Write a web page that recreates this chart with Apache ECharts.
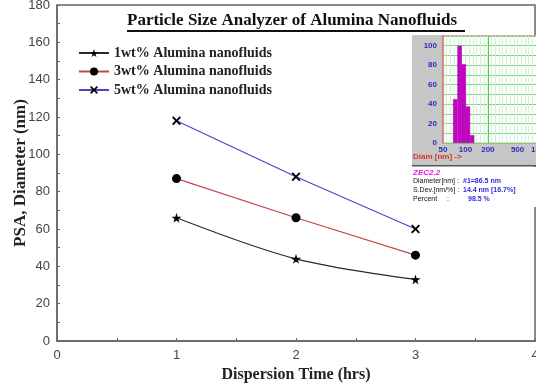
<!DOCTYPE html>
<html>
<head>
<meta charset="utf-8">
<script src="https://cdn.jsdelivr.net/npm/echarts@6/dist/echarts.min.js"></script>
<style>
  html, body { margin: 0; padding: 0; background: #fff; }
  #chart { width: 536px; height: 383px; }
</style>
</head>
<body>
<div id="chart"></div>
<script>
// main plot data
const times = [1, 2, 3];
const psa1 = [66, 44, 33];
const psa3 = [87, 66, 46];
const psa5 = [118, 88, 60];
const seriesNames = ['1wt% Alumina nanofluids', '3wt% Alumina nanofluids', '5wt% Alumina nanofluids'];

// inset histogram (diameter in nm, percent)
const insetDiam = [73, 83.5, 95, 108, 123];
const insetPct = [45, 100, 81, 37.5, 8];
const insetTicks = [50, 100, 200, 500, 1000];

const serif = '"Liberation Serif", "Times New Roman", serif';
const sans = '"Liberation Sans", Arial, sans-serif';

const starPath = 'path://M50,0 L61,35 L98,35 L68,57 L79,91 L50,70 L21,91 L32,57 L2,35 L39,35 Z';
const crossPath = 'path://M0,15 L15,0 L50,35 L85,0 L100,15 L65,50 L100,85 L85,100 L50,65 L15,100 L0,85 L35,50 Z';

const pair = (xs, ys) => xs.map((x, i) => [x, ys[i]]);
const lg = v => Math.log10(v);

const chart = echarts.init(document.getElementById('chart'));

const option = {
    animation: false,
    backgroundColor: '#fff',
    grid: [
        { left: 57, top: 5, right: 1, bottom: 42, outerBoundsMode: 'none', show: true, borderColor: '#666', borderWidth: 1.5, backgroundColor: 'transparent' },
        { left: 443, top: 36, width: 97, height: 107, outerBoundsMode: 'none', show: true, z: 5, backgroundColor: '#fbfffb', borderColor: '#e89090', borderWidth: 1 }
    ],
    legend: {
        orient: 'vertical',
        left: 73,
        top: 41,
        itemWidth: 30,
        itemHeight: 10,
        itemGap: 4.5,
        data: seriesNames,
        textStyle: { fontFamily: serif, fontWeight: 'bold', fontSize: 14, color: '#222' }
    },
    xAxis: [
        {
            gridIndex: 0, type: 'value', min: 0, max: 4, interval: 1,
            axisLine: { lineStyle: { color: '#666', width: 1.5 } },
            axisTick: { inside: true, length: 3, lineStyle: { color: '#666' } },
            minorTick: { show: true, splitNumber: 2, length: 3, lineStyle: { color: '#666' } },
            splitLine: { show: false },
            axisLabel: { margin: 8, fontFamily: sans, fontSize: 13, color: '#444' },
            name: 'Dispersion Time (hrs)', nameLocation: 'middle', nameGap: 23,
            nameTextStyle: { fontFamily: serif, fontWeight: 'bold', fontSize: 16, color: '#222' }
        },
        {
            gridIndex: 1, type: 'value', min: lg(50), max: lg(1000), z: 5,
            axisLine: { show: false },
            axisTick: { show: false, customValues: insetTicks.map(lg) },
            splitLine: { show: true, lineStyle: { color: '#5cc85c', width: 1 } },
            axisLabel: {
                customValues: insetTicks.map(lg), margin: 3,
                formatter: v => String(Math.round(Math.pow(10, v))),
                fontFamily: sans, fontSize: 8, fontWeight: 'bold', color: '#2c2cc0'
            }
        },
        {
            gridIndex: 1, type: 'value', min: lg(50), max: lg(1000), interval: 0.05, z: 5,
            axisLine: { show: false }, axisTick: { show: false }, axisLabel: { show: false },
            splitLine: { show: true, lineStyle: { color: '#d8efd8', width: 1 } }
        }
    ],
    yAxis: [
        {
            gridIndex: 0, type: 'value', min: 0, max: 180, interval: 20,
            axisLine: { show: true, lineStyle: { color: '#666', width: 1.5 } },
            axisTick: { show: true, inside: true, length: 3, lineStyle: { color: '#666' } },
            minorTick: { show: true, splitNumber: 2, length: 3, lineStyle: { color: '#666' } },
            splitLine: { show: false },
            axisLabel: { margin: 7, fontFamily: sans, fontSize: 13, color: '#444' },
            name: 'PSA, Diameter (nm)', nameLocation: 'middle', nameGap: 28, nameMoveOverlap: false,
            nameTextStyle: { fontFamily: serif, fontWeight: 'bold', fontSize: 17, color: '#222' }
        },
        {
            gridIndex: 1, type: 'value', min: 0, max: 110, interval: 10, z: 5,
            axisLine: { show: true, lineStyle: { color: '#e07070', width: 1.5 } },
            axisTick: { show: false },
            splitLine: { show: true, lineStyle: { color: '#78d078', width: 1 } },
            axisLabel: {
                margin: 6, fontFamily: sans, fontSize: 8, fontWeight: 'bold', color: '#2c2cc0',
                formatter: v => (v % 20 === 0 && v <= 100) ? String(v) : ''
            }
        }
    ],
    series: [
        {
            name: seriesNames[0], type: 'line', xAxisIndex: 0, yAxisIndex: 0,
            data: pair(times, psa1), smooth: 0.35,
            symbol: starPath, symbolSize: 10,
            lineStyle: { color: '#2a2a2a', width: 1.2 },
            itemStyle: { color: '#000' }
        },
        {
            name: seriesNames[1], type: 'line', xAxisIndex: 0, yAxisIndex: 0,
            data: pair(times, psa3),
            symbol: 'circle', symbolSize: 9,
            lineStyle: { color: '#c04848', width: 1.2 },
            itemStyle: { color: '#000' }
        },
        {
            name: seriesNames[2], type: 'line', xAxisIndex: 0, yAxisIndex: 0,
            data: pair(times, psa5),
            symbol: crossPath, symbolSize: 9,
            lineStyle: { color: '#4848c4', width: 1.2 },
            itemStyle: { color: '#000' }
        },
        {
            name: 'inset', type: 'bar', xAxisIndex: 1, yAxisIndex: 1, z: 6,
            data: insetDiam.map((d, i) => [lg(d), insetPct[i]]),
            barWidth: 4.3,
            itemStyle: { color: '#c800c8', borderColor: '#900090', borderWidth: 0.5 }
        }
    ],
    graphic: [
        {
            type: 'text', left: 127, top: 12, z: 10,
            style: { text: 'Particle Size Analyzer of Alumina Nanofluids', font: 'bold 17px ' + serif, fill: '#111' }
        },
        { type: 'rect', shape: { x: 127, y: 30, width: 338, height: 2 }, style: { fill: '#111' }, z: 10 },
        // inset panel
        { type: 'rect', shape: { x: 412, y: 35, width: 124, height: 131 }, style: { fill: '#c6c6c6' }, z: 1 },
        { type: 'rect', shape: { x: 412, y: 165, width: 124, height: 1.5 }, style: { fill: '#555' }, z: 1 },
        { type: 'rect', shape: { x: 412, y: 167, width: 124, height: 40 }, style: { fill: '#fff' }, z: 1 },
        { type: 'text', x: 413, y: 153, z: 10, style: { text: 'Diam [nm] ->', font: 'bold 8px ' + sans, fill: '#e03030' } },
        { type: 'text', x: 413, y: 169, z: 10, style: { text: 'ZEC2.2', font: 'italic bold 8px ' + sans, fill: '#e020e0' } },
        { type: 'text', x: 413, y: 178, z: 10, style: { text: 'Diameter[nm] :', font: '7px ' + sans, fill: '#111' } },
        { type: 'text', x: 463, y: 178, z: 10, style: { text: '#1=86.5 nm', font: 'bold 7px ' + sans, fill: '#2c2cdc' } },
        { type: 'text', x: 413, y: 187, z: 10, style: { text: 'S.Dev.[nm/%] :', font: '7px ' + sans, fill: '#111' } },
        { type: 'text', x: 463, y: 187, z: 10, style: { text: '14.4 nm [16.7%]', font: 'bold 7px ' + sans, fill: '#2c2cdc' } },
        { type: 'text', x: 413, y: 196, z: 10, style: { text: 'Percent', font: '7px ' + sans, fill: '#111' } },
        { type: 'text', x: 447, y: 196, z: 10, style: { text: ':', font: '7px ' + sans, fill: '#111' } },
        { type: 'text', x: 468, y: 196, z: 10, style: { text: '98.5 %', font: 'bold 7px ' + sans, fill: '#2c2cdc' } }
    ]
};

chart.setOption(option);
</script>
</body>
</html>
